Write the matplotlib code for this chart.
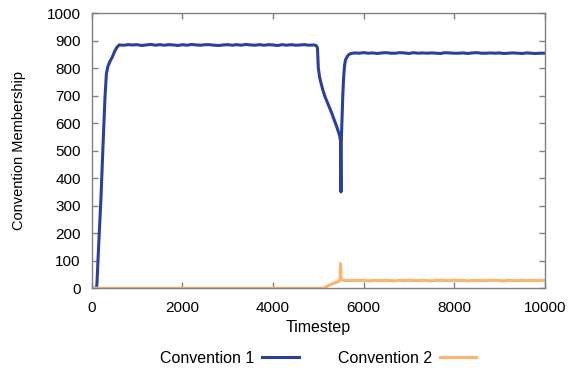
import numpy as np
import matplotlib
matplotlib.use("Agg")
import matplotlib.pyplot as plt

plt.rcParams["font.family"] = ["Liberation Sans", "DejaVu Sans"]

# Convention 1: rise, plateau, collapse, recovery, plateau
c1_rise_t = [0, 100, 110, 150, 200, 250, 290, 320, 350, 400, 450, 500, 550, 600]
c1_rise_v = [0, 0, 15, 160, 330, 540, 700, 780, 805, 825, 840, 860, 875, 884]

c1_plat1_v = [883, 885, 884, 885, 882, 884, 886, 883, 885, 883, 885, 884, 882, 885,
              883, 886, 884, 883, 885, 885, 883, 882, 884, 885, 883, 885, 883, 886,
              884, 883, 885, 883, 885, 884, 882, 885, 883, 885, 883, 884, 885, 883,
              884]  # t = 700 .. 4900

c1_drop_t = [4950, 4980, 5000, 5030, 5060, 5100, 5150, 5200, 5250, 5300, 5350, 5400,
             5440, 5470, 5490, 5500, 5505, 5520, 5540, 5560, 5580, 5600, 5650, 5700]
c1_drop_v = [882, 874, 800, 765, 745, 720, 695, 675, 655, 635, 612, 590,
             570, 555, 535, 350, 520, 600, 700, 770, 810, 830, 845, 852]

c1_plat2_v = [855, 854, 856, 854, 855, 853, 855, 856, 854, 854, 856, 855, 853, 856,
              854, 855, 854, 855, 854, 853, 856, 855, 854, 854, 855, 853, 855, 856,
              854, 854, 855, 854, 855, 853, 854, 855, 854, 853, 855, 854, 853, 854,
              854]  # t = 5800 .. 10000

# Convention 2: dormant, then small foothold after the collapse
c2_head_t = [0, 5100, 5150, 5200, 5250, 5300, 5350, 5400, 5450, 5480, 5490, 5500, 5520, 5600]
c2_head_v = [0, 0, 3, 8, 12, 16, 19, 22, 25, 30, 90, 40, 30, 28]

c2_plat_v = [28, 29, 28, 29, 27, 28, 29, 28, 29, 28, 27, 29, 28, 29, 28, 28, 29, 28,
             27, 29, 29, 28, 28, 29, 28, 29, 27, 28, 29, 28, 28, 29, 29, 28, 27, 29,
             28, 28, 29, 28, 29, 28, 28, 29]  # t = 5700 .. 10000

c1_t = np.concatenate([c1_rise_t, 700 + 100 * np.arange(len(c1_plat1_v)),
                       c1_drop_t, 5800 + 100 * np.arange(len(c1_plat2_v))])
c1_v = np.concatenate([c1_rise_v, c1_plat1_v, c1_drop_v, c1_plat2_v])
c2_t = np.concatenate([c2_head_t, 5700 + 100 * np.arange(len(c2_plat_v))])
c2_v = np.concatenate([c2_head_v, c2_plat_v])

BLUE = "#2d3f9c"
ORANGE = "#fdb46c"
GRAY = "#808080"

fig = plt.figure(figsize=(5.71, 3.72), dpi=100)
ax = fig.add_axes([0.161, 0.225, 0.793, 0.74])

ax.plot(c1_t, c1_v, color=BLUE, lw=2.2, label="Convention 1", solid_joinstyle="round")
ax.plot(c2_t, c2_v, color=ORANGE, lw=2.2, label="Convention 2", solid_joinstyle="round")

ax.set_xlim(0, 10000)
ax.set_ylim(0, 1000)
ax.set_xticks(np.arange(0, 10001, 2000))
ax.set_yticks(np.arange(0, 1001, 100))
ax.tick_params(direction="in", length=4, width=1, color=GRAY, labelsize=11,
               top=True, right=True)
ax.tick_params(axis="y", pad=8)
ax.tick_params(axis="x", pad=9)
for s in ax.spines.values():
    s.set_color(GRAY)
    s.set_linewidth(1)

ax.set_xlabel("Timestep", fontsize=11.5, labelpad=4)
ax.set_ylabel("Convention Membership", fontsize=10.5, labelpad=15)

ax.legend(loc="center", bbox_to_anchor=(0.5, -0.255), ncol=2, frameon=False,
          markerfirst=False, fontsize=11.5, handlelength=2.3, columnspacing=2.4,
          handletextpad=0.5)

fig.savefig("out.png", dpi=100, facecolor="white")
